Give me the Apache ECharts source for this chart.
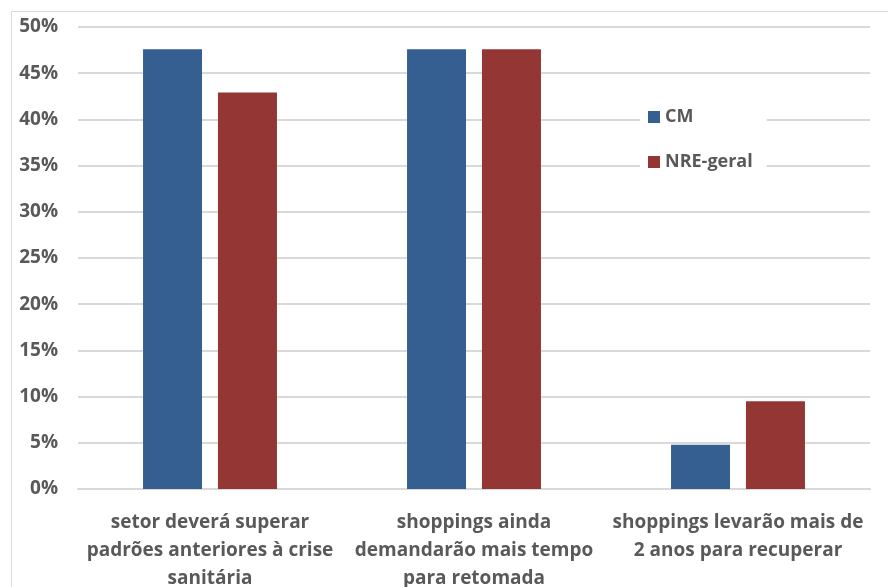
<!DOCTYPE html>
<html>
<head>
<meta charset="utf-8">
<script src="https://cdn.jsdelivr.net/npm/echarts@6/dist/echarts.min.js"></script>
<style>
  html, body { margin: 0; padding: 0; background: #fff; }
  #chart { width: 888px; height: 587px; }
  #frame { position: absolute; left: 11px; top: 11px; width: 900px; height: 600px; border: 1px solid #d9d9d9; box-sizing: border-box; pointer-events: none; }
</style>
</head>
<body>
<div id="chart"></div>
<div id="frame"></div>
<script>
// Survey answers, share of respondents (%)
const categories = [
  'setor deverá superar\npadrões anteriores à crise\nsanitária',
  'shoppings ainda\ndemandarão mais tempo\npara retomada',
  'shoppings levarão mais de\n2 anos para recuperar'
];
const seriesNames = ['CM', 'NRE-geral'];
const cmValues = [47.6, 47.6, 4.8];
const nreValues = [42.9, 47.6, 9.5];
const colors = ['#365f91', '#943634'];

const font = 'Open Sans';
const textColor = '#595959';

const chart = echarts.init(document.getElementById('chart'));
chart.setOption({
  animation: false,
  grid: { left: 78, right: 18, top: 27, bottom: 98, outerBoundsMode: 'none' },
  legend: {
    orient: 'vertical',
    left: 640,
    top: 102,
    padding: [6, 14, 6, 8],
    backgroundColor: '#ffffff',
    itemWidth: 12,
    itemHeight: 12,
    itemGap: 27,
    icon: 'rect',
    textStyle: { color: textColor, fontFamily: font, fontWeight: 'bold', fontSize: 18 },
    data: seriesNames
  },
  xAxis: {
    type: 'category',
    data: categories,
    axisLine: { lineStyle: { color: '#d9d9d9', width: 2 } },
    axisTick: { show: false },
    axisLabel: {
      interval: 0,
      margin: 20,
      lineHeight: 28,
      color: textColor,
      fontFamily: font,
      fontWeight: 'bold',
      fontSize: 19
    }
  },
  yAxis: {
    type: 'value',
    min: 0,
    max: 50,
    interval: 5,
    axisLine: { show: false },
    axisTick: { show: false },
    splitLine: { lineStyle: { color: '#d9d9d9', width: 2 } },
    axisLabel: {
      formatter: '{value}%',
      margin: 20,
      color: textColor,
      fontFamily: font,
      fontWeight: 'bold',
      fontSize: 19
    }
  },
  series: [
    {
      name: seriesNames[0], type: 'bar', data: cmValues,
      barWidth: 59, barGap: '27%',
      itemStyle: { color: colors[0] }
    },
    {
      name: seriesNames[1], type: 'bar', data: nreValues,
      barWidth: 59, barGap: '27%',
      itemStyle: { color: colors[1] }
    }
  ]
});
</script>
</body>
</html>
